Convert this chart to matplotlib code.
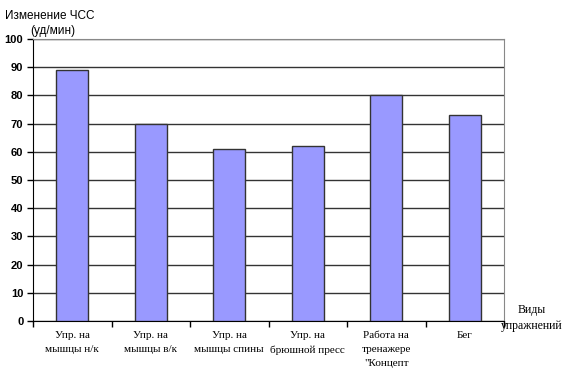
import matplotlib
matplotlib.use('Agg')
import matplotlib.pyplot as plt
import numpy as np

# data
categories = ['Упр. на\nмышцы н/к', 'Упр. на\nмышцы в/к', 'Упр. на\nмышцы спины',
              'Упр. на\nбрюшной пресс', 'Работа на\nтренажере\n"Концепт', 'Бег']
values = [89, 70, 61, 62, 80, 73]
yticks = list(range(0, 101, 10))

fig = plt.figure(figsize=(5.7, 3.82), dpi=100)
ax = fig.add_axes([33/570, 61/382, 471/570, 282/382])

x = np.arange(len(categories))
ax.bar(x, values, width=0.41, color='#9999FF', edgecolor='#333333', linewidth=1, zorder=3)

ax.set_xlim(-0.5, len(categories) - 0.5)
ax.set_ylim(0, 100)
ax.set_yticks(yticks)
ax.set_yticklabels([str(t) for t in yticks], fontsize=8, fontweight='bold', family='Liberation Sans')
ax.yaxis.grid(True, color='#333333', linewidth=1, zorder=0)
ax.tick_params(axis='y', length=4, width=1, direction='out', pad=3)

# category ticks on boundaries, labels in centre
ax.set_xticks(np.arange(-0.5, len(categories)), minor=False)
ax.set_xticklabels([])
ax.tick_params(axis='x', length=4, width=1, direction='out')
for i, lab in enumerate(categories):
    ax.text(i, -3.5, lab, ha='center', va='top', fontsize=8,
            family='Liberation Serif', linespacing=1.75)

for s in ['top', 'right']:
    ax.spines[s].set_color('#888888')
for s in ['left', 'bottom']:
    ax.spines[s].set_color('black')

fig.text(5/570, 1 - 16/382, 'Изменение ЧСС', fontsize=8.5, family='Liberation Sans', va='center')
fig.text(30/570, 1 - 31/382, '(уд/мин)', fontsize=8.5, family='Liberation Sans', va='center')
fig.text(532/570, 1 - 318/382, 'Виды\nупражнений', fontsize=8.5, family='Liberation Serif',
         ha='center', va='center', linespacing=1.5)

fig.savefig('out.png', dpi=100)
